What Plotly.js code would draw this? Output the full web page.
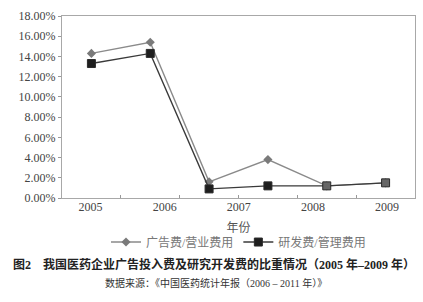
<!DOCTYPE html>
<html>
<head>
<meta charset="utf-8">
<script src="https://cdn.plot.ly/plotly-3.0.1.min.js"></script>
<style>
  html, body { margin: 0; padding: 0; background: #fff; }
  #chart { width: 423px; height: 302px; }
</style>
</head>
<body>
<div id="chart"></div>
<script>
// Year labels printed under the axis
const yearLabels = [2005, 2006, 2007, 2008, 2009];

// Series values (%), one per plotted point
const adToSales = [14.3, 15.4, 1.6, 3.8, 1.2, 1.5];     // 广告费/营业费用
const rdToAdmin = [13.3, 14.3, 0.9, 1.2, 1.2, 1.5];     // 研发费/管理费用

const seriesNames = ['广告费/营业费用', '研发费/管理费用'];

const serif = '"Liberation Serif", "Times New Roman", "Noto Sans CJK SC", serif';
const cjk = '"Liberation Serif", "Noto Sans CJK SC", serif';

const idx = adToSales.map((_, i) => i);

const traces = [
  {
    x: idx, y: adToSales, name: seriesNames[0],
    type: 'scatter', mode: 'lines+markers',
    line: { color: '#8a8a8a', width: 1.4 },
    marker: { symbol: 'diamond', size: 7, color: '#7a7a7a' }
  },
  {
    x: idx, y: rdToAdmin, name: seriesNames[1],
    type: 'scatter', mode: 'lines+markers',
    line: { color: '#3a3a3a', width: 1.4 },
    marker: { symbol: 'square', size: 8,
              color: ['#1e1e1e', '#1e1e1e', '#1e1e1e', '#1e1e1e', '#666', '#666'],
              line: { color: '#2a2a2a', width: 1 } }
  },
  // carries the year axis so that its labels get drawn
  {
    x: yearLabels, y: yearLabels.map(() => null), xaxis: 'x2', yaxis: 'y',
    type: 'scatter', mode: 'none', showlegend: false, hoverinfo: 'skip'
  }
];

const layout = {
  width: 423, height: 302,
  margin: { l: 62, r: 8, t: 16, b: 104 },
  paper_bgcolor: '#fff', plot_bgcolor: '#fff',
  showlegend: true,
  legend: {
    orientation: 'h', x: 0.5, xanchor: 'center', y: -0.242, yanchor: 'middle',
    font: { family: cjk, size: 12, color: '#777' },
    itemwidth: 30, traceorder: 'normal'
  },
  xaxis: {
    range: [-0.5, idx.length - 0.5],
    showgrid: false, zeroline: false,
    tick0: 0.5, dtick: 1,
    ticks: 'inside', ticklen: 3, tickcolor: '#999',
    showticklabels: false,
    showline: true, linecolor: '#a8a8a8', linewidth: 1, mirror: true
  },
  xaxis2: {
    overlaying: 'x', anchor: 'y', side: 'bottom',
    range: [2004.614, 2009.378],
    tickvals: yearLabels, ticktext: yearLabels.map(String),
    showgrid: false, zeroline: false, showline: false, ticks: '',
    tickfont: { family: serif, size: 12, color: '#444' },
    title: { text: '年份', font: { family: cjk, size: 12, color: '#555' }, standoff: 10 }
  },
  yaxis: {
    range: [0, 18], dtick: 2,
    tickformat: '.2f', ticksuffix: '%',
    showgrid: false, zeroline: false,
    ticks: 'outside', ticklen: 3, tickcolor: '#999',
    tickfont: { family: serif, size: 12, color: '#444' },
    showline: true, linecolor: '#a8a8a8', linewidth: 1, mirror: true
  },
  annotations: [
    {
      xref: 'paper', yref: 'paper', x: 0.43, y: -0.368, xanchor: 'center', yanchor: 'middle',
      text: '<b>图2　我国医药企业广告投入费及研究开发费的比重情况（2005 年–2009 年）</b>',
      showarrow: false, font: { family: cjk, size: 12, color: '#222' }
    },
    {
      xref: 'paper', yref: 'paper', x: 0.436, y: -0.467, xanchor: 'center', yanchor: 'middle',
      text: '数据来源：《中国医药统计年报（2006 – 2011 年）》',
      showarrow: false, font: { family: cjk, size: 10, color: '#333' }
    }
  ]
};

Plotly.newPlot('chart', traces, layout, { displayModeBar: false, staticPlot: true });
</script>
</body>
</html>
